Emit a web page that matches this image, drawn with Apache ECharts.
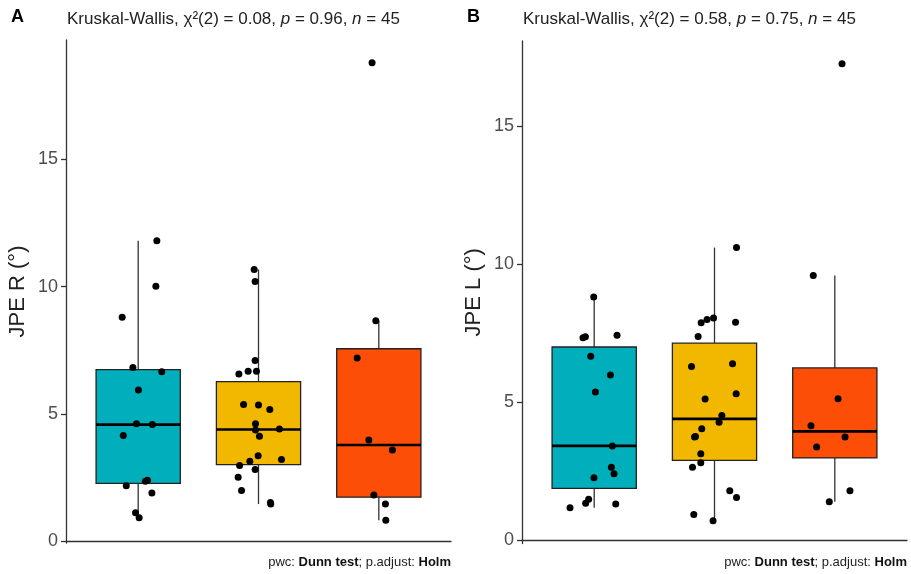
<!DOCTYPE html>
<html><head><meta charset="utf-8">
<script src="https://cdn.jsdelivr.net/npm/echarts@6/dist/echarts.min.js"></script>
<style>html,body{margin:0;padding:0;background:#fff}#c{width:911px;height:574px}</style>
</head><body><div id="c"></div>
<script>
// ---- data ----
const groupColors = ['#00AFBB', '#F2B800', '#FC4E07'];

// Panel A: JPE R (°)
const jpeR_g1 = [11.80, 10.01, 8.79, 6.82, 6.65, 5.94, 4.61, 4.58, 4.15, 2.18, 2.36, 2.40, 1.90, 1.12, 0.92];
const jpeR_g1_jitter = [0.155, 0.147, -0.133, -0.044, 0.196, 0.002, -0.014, 0.118, -0.124, -0.099, 0.060, 0.077, 0.114, -0.022, 0.008];
const jpeR_g2 = [10.67, 10.20, 7.10, 6.57, 6.67, 6.67, 5.37, 5.35, 5.17, 4.61, 4.37, 4.41, 4.12, 3.36, 3.21, 3.14, 2.97, 2.82, 2.51, 1.99, 1.52, 1.46];
const jpeR_g2_jitter = [-0.036, -0.028, -0.028, -0.163, -0.086, -0.017, -0.124, 0.000, 0.094, -0.025, -0.025, 0.174, 0.008, -0.003, 0.191, -0.072, -0.157, -0.028, -0.169, -0.141, 0.099, 0.102];
const jpeR_g3 = [18.78, 8.66, 7.19, 3.98, 3.58, 1.82, 1.46, 0.83];
const jpeR_g3_jitter = [-0.056, -0.025, -0.180, -0.083, 0.113, -0.041, 0.055, 0.058];

// Panel B: JPE L (°)
const jpeL_g1 = [8.81, 7.33, 7.37, 7.42, 6.66, 5.98, 5.36, 3.41, 2.64, 2.40, 2.26, 1.48, 1.33, 1.30, 1.17];
const jpeL_g1_jitter = [-0.004, -0.093, -0.073, 0.190, -0.029, 0.135, 0.010, 0.151, 0.143, 0.165, -0.002, -0.046, -0.071, 0.179, -0.201];
const jpeL_g2 = [10.60, 7.87, 7.99, 8.05, 7.89, 7.38, 6.29, 6.39, 5.11, 5.30, 4.51, 4.27, 4.03, 3.73, 3.75, 3.13, 2.80, 2.64, 1.78, 1.54, 0.92, 0.70];
const jpeL_g2_jitter = [0.183, -0.111, -0.062, -0.008, 0.175, -0.136, -0.191, 0.150, -0.078, 0.180, 0.061, 0.038, -0.106, -0.166, -0.158, -0.114, -0.114, -0.183, 0.127, 0.183, -0.172, -0.012];
const jpeL_g3 = [17.26, 9.59, 5.12, 4.14, 3.73, 3.37, 1.78, 1.39];
const jpeL_g3_jitter = [0.060, -0.179, 0.027, -0.198, 0.085, -0.151, 0.126, -0.046];

const yTicks = [0, 5, 10, 15];
const yNameA = 'JPE R (°)';
const yNameB = 'JPE L (°)';
const statA = ['0.08', '0.96', '45'];
const statB = ['0.58', '0.75', '45'];

// ---- helpers ----
function quantile(sorted, p) {
  const h = (sorted.length - 1) * p;
  const lo = Math.floor(h), hi = Math.ceil(h);
  return sorted[lo] + (h - lo) * (sorted[hi] - sorted[lo]);
}
function boxStats(values, idx) {
  const s = values.slice().sort((a, b) => a - b);
  const q1 = quantile(s, 0.25), med = quantile(s, 0.5), q3 = quantile(s, 0.75);
  const iqr = q3 - q1;
  const lowF = q1 - 1.5 * iqr, highF = q3 + 1.5 * iqr;
  const wlo = s.find(v => v >= lowF);
  const whi = s.filter(v => v <= highF).pop();
  return [idx + 1, q1, med, q3, wlo, whi];
}
function range(all) {
  const mn = Math.min(...all), mx = Math.max(...all);
  const pad = (mx - mn) * 0.05;
  return [mn - pad, mx + pad];
}

const FONT = 'Liberation Sans, Arial, sans-serif';
const AXIS_COLOR = '#333';

function boxRender(params, api) {
  const x = api.value(0);
  const halfW = api.size([0.7, 0])[0] / 2;
  const pc = api.coord([x, 0])[0];
  const y = v => api.coord([x, v])[1];
  const yq1 = y(api.value(1)), ymed = y(api.value(2)), yq3 = y(api.value(3));
  const ylo = y(api.value(4)), yhi = y(api.value(5));
  const col = groupColors[params.dataIndex];
  const ls = { stroke: '#333', lineWidth: 1.3 };
  return {
    type: 'group', children: [
      { type: 'line', shape: { x1: pc, y1: yhi, x2: pc, y2: yq3 }, style: ls },
      { type: 'line', shape: { x1: pc, y1: yq1, x2: pc, y2: ylo }, style: ls },
      { type: 'rect', shape: { x: pc - halfW, y: yq3, width: 2 * halfW, height: yq1 - yq3 }, style: { fill: col, stroke: '#222', lineWidth: 1.3 } },
      { type: 'line', shape: { x1: pc - halfW, y1: ymed, x2: pc + halfW, y2: ymed }, style: { stroke: '#000', lineWidth: 2.6 } }
    ]
  };
}

function pts(values, jitter, gi) {
  return values.map((v, i) => [gi + 1 + jitter[i], v]);
}

const panels = [
  { groups: [jpeR_g1, jpeR_g2, jpeR_g3], jit: [jpeR_g1_jitter, jpeR_g2_jitter, jpeR_g3_jitter], name: yNameA },
  { groups: [jpeL_g1, jpeL_g2, jpeL_g3], jit: [jpeL_g1_jitter, jpeL_g2_jitter, jpeL_g3_jitter], name: yNameB }
];

const grids = [
  { left: 66, right: 460, top: 40, bottom: 31 },
  { left: 522, right: 4, top: 41, bottom: 30.5 }
];

const xAxes = [], yAxes = [], series = [];
panels.forEach((p, k) => {
  xAxes.push({
    type: 'value', gridIndex: k, min: 0.4, max: 3.6,
    axisLine: { show: true, lineStyle: { color: AXIS_COLOR, width: 1.3 } },
    axisTick: { show: false }, axisLabel: { show: false }, splitLine: { show: false }
  });
  const r = range([].concat(...p.groups));
  yAxes.push({
    type: 'value', gridIndex: k, min: r[0], max: r[1],
    name: p.name, nameLocation: 'middle', nameGap: 37, nameRotate: 90,
    nameTextStyle: { fontSize: 22, color: '#222', fontFamily: FONT },
    axisLine: { show: true, lineStyle: { color: AXIS_COLOR, width: 1.3 } },
    axisTick: { show: true, length: 5, lineStyle: { color: AXIS_COLOR, width: 1.3 }, customValues: yTicks },
    axisLabel: { show: true, fontSize: 18, color: '#4d4d4d', fontFamily: FONT, margin: 8, customValues: yTicks },
    splitLine: { show: false }
  });
  series.push({
    type: 'custom', xAxisIndex: k, yAxisIndex: k,
    renderItem: boxRender,
    data: p.groups.map((g, i) => boxStats(g, i)),
    encode: { x: 0, y: [1, 2, 3, 4, 5] },
    z: 2, silent: true
  });
  p.groups.forEach((g, gi) => {
    series.push({
      type: 'scatter', xAxisIndex: k, yAxisIndex: k,
      data: pts(g, p.jit[gi], gi), symbolSize: 7,
      itemStyle: { color: '#000', opacity: 1 }, z: 5, silent: true
    });
  });
});

function statText(s) {
  return '{a|Kruskal-Wallis, χ²(2) = ' + s[0] + ', }{i|p}{a| = ' + s[1] + ', }{i|n}{a| = ' + s[2] + '}';
}
const richTitle = {
  a: { fontSize: 17, color: '#222', fontFamily: FONT, fontWeight: 'normal', lineHeight: 19 },
  i: { fontSize: 17, color: '#222', fontFamily: FONT, fontWeight: 'normal', fontStyle: 'italic', lineHeight: 19 }
};
const richFoot = {
  n: { fontSize: 13, color: '#222', fontFamily: FONT, fontWeight: 'normal', lineHeight: 15 },
  b: { fontSize: 13, color: '#111', fontFamily: FONT, fontWeight: 'bold', lineHeight: 15 }
};
const foot = '{n|pwc: }{b|Dunn test}{n|; p.adjust: }{b|Holm}';

const option = {
  animation: false,
  backgroundColor: '#fff',
  title: [
    { text: 'A', left: 11, top: 8, padding: 0, textStyle: { fontSize: 18, fontWeight: 'bold', color: '#000', fontFamily: FONT } },
    { text: 'B', left: 467, top: 8, padding: 0, textStyle: { fontSize: 18, fontWeight: 'bold', color: '#000', fontFamily: FONT } },
    { text: statText(statA), left: 67, top: 10, padding: 0, textStyle: { fontWeight: 'normal', rich: richTitle } },
    { text: statText(statB), left: 523, top: 10, padding: 0, textStyle: { fontWeight: 'normal', rich: richTitle } },
    { text: foot, right: 460, top: 555, padding: 0, textStyle: { fontWeight: 'normal', rich: richFoot } },
    { text: foot, right: 4, top: 555, padding: 0, textStyle: { fontWeight: 'normal', rich: richFoot } }
  ],
  grid: grids,
  xAxis: xAxes,
  yAxis: yAxes,
  series: series
};

const chart = echarts.init(document.getElementById('c'), null, { renderer: 'canvas' });
chart.setOption(option);
</script>
</body></html>
